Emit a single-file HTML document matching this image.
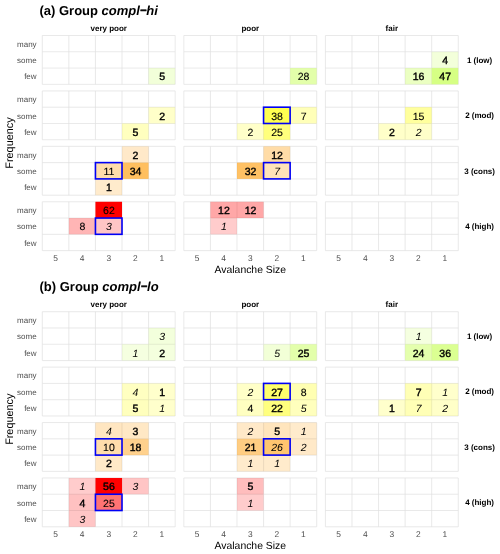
<!DOCTYPE html>
<html><head><meta charset="utf-8"><title>Avalanche size and frequency</title>
<style>
html,body{margin:0;padding:0;background:#fff}
svg{display:block;will-change:transform;text-rendering:geometricPrecision;font-family:"Liberation Sans",sans-serif}
</style></head><body>
<svg width="500" height="554" viewBox="0 0 500 554">
<rect width="500" height="554" fill="#fff"/>
<g transform="translate(0,0)">
<text x="39.5" y="14.5" font-size="13" font-weight="bold" fill="#000">(a) Group <tspan font-style="italic">compl<tspan font-size="11" dy="-0.7" stroke="#000" stroke-width="0.5">−</tspan><tspan dy="0.7">hi</tspan></tspan></text>
<text x="108.72" y="30.75" font-size="8" font-weight="bold" text-anchor="middle" fill="#000">very poor</text>
<text x="250.27" y="30.75" font-size="8" font-weight="bold" text-anchor="middle" fill="#000">poor</text>
<text x="391.82" y="30.75" font-size="8" font-weight="bold" text-anchor="middle" fill="#000">fair</text>
<text x="479.6" y="62.82" font-size="8" font-weight="bold" text-anchor="middle" fill="#000">1 (low)</text>
<text x="479.6" y="118.25" font-size="8" font-weight="bold" text-anchor="middle" fill="#000">2 (mod)</text>
<text x="479.6" y="173.67" font-size="8" font-weight="bold" text-anchor="middle" fill="#000">3 (cons)</text>
<text x="479.6" y="229.09" font-size="8" font-weight="bold" text-anchor="middle" fill="#000">4 (high)</text>
<text x="36.6" y="46.84" font-size="8" text-anchor="end" fill="#4d4d4d">many</text>
<text x="36.6" y="63.13" font-size="8" text-anchor="end" fill="#4d4d4d">some</text>
<text x="36.6" y="79.41" font-size="8" text-anchor="end" fill="#4d4d4d">few</text>
<text x="36.6" y="102.26" font-size="8" text-anchor="end" fill="#4d4d4d">many</text>
<text x="36.6" y="118.55" font-size="8" text-anchor="end" fill="#4d4d4d">some</text>
<text x="36.6" y="134.83" font-size="8" text-anchor="end" fill="#4d4d4d">few</text>
<text x="36.6" y="157.68" font-size="8" text-anchor="end" fill="#4d4d4d">many</text>
<text x="36.6" y="173.97" font-size="8" text-anchor="end" fill="#4d4d4d">some</text>
<text x="36.6" y="190.25" font-size="8" text-anchor="end" fill="#4d4d4d">few</text>
<text x="36.6" y="213.10" font-size="8" text-anchor="end" fill="#4d4d4d">many</text>
<text x="36.6" y="229.38" font-size="8" text-anchor="end" fill="#4d4d4d">some</text>
<text x="36.6" y="245.67" font-size="8" text-anchor="end" fill="#4d4d4d">few</text>
<text x="55.58" y="261.1" font-size="8.4" text-anchor="middle" fill="#4d4d4d">5</text>
<text x="82.16" y="261.1" font-size="8.4" text-anchor="middle" fill="#4d4d4d">4</text>
<text x="108.72" y="261.1" font-size="8.4" text-anchor="middle" fill="#4d4d4d">3</text>
<text x="135.30" y="261.1" font-size="8.4" text-anchor="middle" fill="#4d4d4d">2</text>
<text x="161.87" y="261.1" font-size="8.4" text-anchor="middle" fill="#4d4d4d">1</text>
<text x="197.13" y="261.1" font-size="8.4" text-anchor="middle" fill="#4d4d4d">5</text>
<text x="223.70" y="261.1" font-size="8.4" text-anchor="middle" fill="#4d4d4d">4</text>
<text x="250.27" y="261.1" font-size="8.4" text-anchor="middle" fill="#4d4d4d">3</text>
<text x="276.85" y="261.1" font-size="8.4" text-anchor="middle" fill="#4d4d4d">2</text>
<text x="303.41" y="261.1" font-size="8.4" text-anchor="middle" fill="#4d4d4d">1</text>
<text x="338.69" y="261.1" font-size="8.4" text-anchor="middle" fill="#4d4d4d">5</text>
<text x="365.25" y="261.1" font-size="8.4" text-anchor="middle" fill="#4d4d4d">4</text>
<text x="391.82" y="261.1" font-size="8.4" text-anchor="middle" fill="#4d4d4d">3</text>
<text x="418.39" y="261.1" font-size="8.4" text-anchor="middle" fill="#4d4d4d">2</text>
<text x="444.96" y="261.1" font-size="8.4" text-anchor="middle" fill="#4d4d4d">1</text>
<text x="250.3" y="273.0" font-size="10.4" text-anchor="middle" fill="#000">Avalanche Size</text>
<text transform="translate(13.2,143.06) rotate(-90)" font-size="10.85" text-anchor="middle" fill="#000">Frequency</text>
<path d="M42.30 35.50V84.35M68.87 35.50V84.35M95.44 35.50V84.35M122.01 35.50V84.35M148.58 35.50V84.35M175.15 35.50V84.35M42.30 35.50H175.15M42.30 51.78H175.15M42.30 68.07H175.15M42.30 84.35H175.15" stroke="#e0e0e0" stroke-width="0.7" fill="none"/>
<path d="M42.30 90.92V139.77M68.87 90.92V139.77M95.44 90.92V139.77M122.01 90.92V139.77M148.58 90.92V139.77M175.15 90.92V139.77M42.30 90.92H175.15M42.30 107.20H175.15M42.30 123.49H175.15M42.30 139.77H175.15" stroke="#e0e0e0" stroke-width="0.7" fill="none"/>
<path d="M42.30 146.34V195.19M68.87 146.34V195.19M95.44 146.34V195.19M122.01 146.34V195.19M148.58 146.34V195.19M175.15 146.34V195.19M42.30 146.34H175.15M42.30 162.62H175.15M42.30 178.91H175.15M42.30 195.19H175.15" stroke="#e0e0e0" stroke-width="0.7" fill="none"/>
<path d="M42.30 201.76V250.61M68.87 201.76V250.61M95.44 201.76V250.61M122.01 201.76V250.61M148.58 201.76V250.61M175.15 201.76V250.61M42.30 201.76H175.15M42.30 218.04H175.15M42.30 234.33H175.15M42.30 250.61H175.15" stroke="#e0e0e0" stroke-width="0.7" fill="none"/>
<path d="M183.85 35.50V84.35M210.42 35.50V84.35M236.99 35.50V84.35M263.56 35.50V84.35M290.13 35.50V84.35M316.70 35.50V84.35M183.85 35.50H316.70M183.85 51.78H316.70M183.85 68.07H316.70M183.85 84.35H316.70" stroke="#e0e0e0" stroke-width="0.7" fill="none"/>
<path d="M183.85 90.92V139.77M210.42 90.92V139.77M236.99 90.92V139.77M263.56 90.92V139.77M290.13 90.92V139.77M316.70 90.92V139.77M183.85 90.92H316.70M183.85 107.20H316.70M183.85 123.49H316.70M183.85 139.77H316.70" stroke="#e0e0e0" stroke-width="0.7" fill="none"/>
<path d="M183.85 146.34V195.19M210.42 146.34V195.19M236.99 146.34V195.19M263.56 146.34V195.19M290.13 146.34V195.19M316.70 146.34V195.19M183.85 146.34H316.70M183.85 162.62H316.70M183.85 178.91H316.70M183.85 195.19H316.70" stroke="#e0e0e0" stroke-width="0.7" fill="none"/>
<path d="M183.85 201.76V250.61M210.42 201.76V250.61M236.99 201.76V250.61M263.56 201.76V250.61M290.13 201.76V250.61M316.70 201.76V250.61M183.85 201.76H316.70M183.85 218.04H316.70M183.85 234.33H316.70M183.85 250.61H316.70" stroke="#e0e0e0" stroke-width="0.7" fill="none"/>
<path d="M325.40 35.50V84.35M351.97 35.50V84.35M378.54 35.50V84.35M405.11 35.50V84.35M431.68 35.50V84.35M458.25 35.50V84.35M325.40 35.50H458.25M325.40 51.78H458.25M325.40 68.07H458.25M325.40 84.35H458.25" stroke="#e0e0e0" stroke-width="0.7" fill="none"/>
<path d="M325.40 90.92V139.77M351.97 90.92V139.77M378.54 90.92V139.77M405.11 90.92V139.77M431.68 90.92V139.77M458.25 90.92V139.77M325.40 90.92H458.25M325.40 107.20H458.25M325.40 123.49H458.25M325.40 139.77H458.25" stroke="#e0e0e0" stroke-width="0.7" fill="none"/>
<path d="M325.40 146.34V195.19M351.97 146.34V195.19M378.54 146.34V195.19M405.11 146.34V195.19M431.68 146.34V195.19M458.25 146.34V195.19M325.40 146.34H458.25M325.40 162.62H458.25M325.40 178.91H458.25M325.40 195.19H458.25" stroke="#e0e0e0" stroke-width="0.7" fill="none"/>
<path d="M325.40 201.76V250.61M351.97 201.76V250.61M378.54 201.76V250.61M405.11 201.76V250.61M431.68 201.76V250.61M458.25 201.76V250.61M325.40 201.76H458.25M325.40 218.04H458.25M325.40 234.33H458.25M325.40 250.61H458.25" stroke="#e0e0e0" stroke-width="0.7" fill="none"/>
<rect x="148.58" y="68.07" width="26.57" height="16.28" fill="rgb(204,255,102)" fill-opacity="0.252"/>
<rect x="148.58" y="107.20" width="26.57" height="16.28" fill="rgb(255,255,0)" fill-opacity="0.213"/>
<rect x="122.01" y="123.49" width="26.57" height="16.28" fill="rgb(255,255,0)" fill-opacity="0.252"/>
<rect x="122.01" y="146.34" width="26.57" height="16.28" fill="rgb(255,153,0)" fill-opacity="0.213"/>
<rect x="95.44" y="162.62" width="26.57" height="16.28" fill="rgb(255,153,0)" fill-opacity="0.331"/>
<rect x="122.01" y="162.62" width="26.57" height="16.28" fill="rgb(255,153,0)" fill-opacity="0.633"/>
<rect x="95.44" y="178.91" width="26.57" height="16.28" fill="rgb(255,153,0)" fill-opacity="0.200"/>
<rect x="95.44" y="201.76" width="26.57" height="16.28" fill="rgb(255,0,0)" fill-opacity="1.000"/>
<rect x="68.87" y="218.04" width="26.57" height="16.28" fill="rgb(255,0,0)" fill-opacity="0.292"/>
<rect x="95.44" y="218.04" width="26.57" height="16.28" fill="rgb(255,0,0)" fill-opacity="0.226"/>
<rect x="290.13" y="68.07" width="26.57" height="16.28" fill="rgb(204,255,102)" fill-opacity="0.554"/>
<rect x="263.56" y="107.20" width="26.57" height="16.28" fill="rgb(255,255,0)" fill-opacity="0.685"/>
<rect x="290.13" y="107.20" width="26.57" height="16.28" fill="rgb(255,255,0)" fill-opacity="0.279"/>
<rect x="236.99" y="123.49" width="26.57" height="16.28" fill="rgb(255,255,0)" fill-opacity="0.213"/>
<rect x="263.56" y="123.49" width="26.57" height="16.28" fill="rgb(255,255,0)" fill-opacity="0.515"/>
<rect x="263.56" y="146.34" width="26.57" height="16.28" fill="rgb(255,153,0)" fill-opacity="0.344"/>
<rect x="236.99" y="162.62" width="26.57" height="16.28" fill="rgb(255,153,0)" fill-opacity="0.607"/>
<rect x="263.56" y="162.62" width="26.57" height="16.28" fill="rgb(255,153,0)" fill-opacity="0.279"/>
<rect x="210.42" y="201.76" width="26.57" height="16.28" fill="rgb(255,0,0)" fill-opacity="0.344"/>
<rect x="236.99" y="201.76" width="26.57" height="16.28" fill="rgb(255,0,0)" fill-opacity="0.344"/>
<rect x="210.42" y="218.04" width="26.57" height="16.28" fill="rgb(255,0,0)" fill-opacity="0.200"/>
<rect x="431.68" y="51.78" width="26.57" height="16.28" fill="rgb(204,255,102)" fill-opacity="0.239"/>
<rect x="405.11" y="68.07" width="26.57" height="16.28" fill="rgb(204,255,102)" fill-opacity="0.397"/>
<rect x="431.68" y="68.07" width="26.57" height="16.28" fill="rgb(204,255,102)" fill-opacity="0.803"/>
<rect x="405.11" y="107.20" width="26.57" height="16.28" fill="rgb(255,255,0)" fill-opacity="0.384"/>
<rect x="378.54" y="123.49" width="26.57" height="16.28" fill="rgb(255,255,0)" fill-opacity="0.213"/>
<rect x="405.11" y="123.49" width="26.57" height="16.28" fill="rgb(255,255,0)" fill-opacity="0.213"/>
<rect x="95.44" y="162.62" width="26.57" height="16.28" fill="none" stroke="#0000f5" stroke-width="1.6"/>
<rect x="95.44" y="218.04" width="26.57" height="16.28" fill="none" stroke="#0000f5" stroke-width="1.6"/>
<rect x="263.56" y="107.20" width="26.57" height="16.28" fill="none" stroke="#0000f5" stroke-width="1.6"/>
<rect x="263.56" y="162.62" width="26.57" height="16.28" fill="none" stroke="#0000f5" stroke-width="1.6"/>
<text x="162.06" y="80.36" font-size="10.5" stroke="#000" stroke-width="0.4" text-anchor="middle" fill="#000">5</text>
<text x="162.06" y="119.50" font-size="10.5" stroke="#000" stroke-width="0.4" text-anchor="middle" fill="#000">2</text>
<text x="135.50" y="135.78" font-size="10.5" stroke="#000" stroke-width="0.4" text-anchor="middle" fill="#000">5</text>
<text x="135.50" y="158.63" font-size="10.5" stroke="#000" stroke-width="0.4" text-anchor="middle" fill="#000">2</text>
<text x="108.92" y="174.92" font-size="10.5" stroke="#000" stroke-width="0.12" text-anchor="middle" fill="#000">11</text>
<text x="135.50" y="174.92" font-size="10.5" stroke="#000" stroke-width="0.4" text-anchor="middle" fill="#000">34</text>
<text x="108.92" y="191.20" font-size="10.5" stroke="#000" stroke-width="0.4" text-anchor="middle" fill="#000">1</text>
<text x="108.92" y="214.05" font-size="10.5" stroke="#000" stroke-width="0.12" text-anchor="middle" fill="#000">62</text>
<text x="82.36" y="230.34" font-size="10.5" stroke="#000" stroke-width="0.12" text-anchor="middle" fill="#000">8</text>
<text x="108.92" y="230.34" font-size="10.5" font-style="italic" text-anchor="middle" fill="#000">3</text>
<text x="303.62" y="80.36" font-size="10.5" stroke="#000" stroke-width="0.12" text-anchor="middle" fill="#000">28</text>
<text x="277.05" y="119.50" font-size="10.5" stroke="#000" stroke-width="0.12" text-anchor="middle" fill="#000">38</text>
<text x="303.62" y="119.50" font-size="10.5" stroke="#000" stroke-width="0.12" text-anchor="middle" fill="#000">7</text>
<text x="250.47" y="135.78" font-size="10.5" stroke="#000" stroke-width="0.12" text-anchor="middle" fill="#000">2</text>
<text x="277.05" y="135.78" font-size="10.5" stroke="#000" stroke-width="0.12" text-anchor="middle" fill="#000">25</text>
<text x="277.05" y="158.63" font-size="10.5" stroke="#000" stroke-width="0.4" text-anchor="middle" fill="#000">12</text>
<text x="250.47" y="174.92" font-size="10.5" stroke="#000" stroke-width="0.4" text-anchor="middle" fill="#000">32</text>
<text x="277.05" y="174.92" font-size="10.5" font-style="italic" text-anchor="middle" fill="#000">7</text>
<text x="223.90" y="214.05" font-size="10.5" stroke="#000" stroke-width="0.4" text-anchor="middle" fill="#000">12</text>
<text x="250.47" y="214.05" font-size="10.5" stroke="#000" stroke-width="0.4" text-anchor="middle" fill="#000">12</text>
<text x="223.90" y="230.34" font-size="10.5" font-style="italic" text-anchor="middle" fill="#000">1</text>
<text x="445.16" y="64.08" font-size="10.5" stroke="#000" stroke-width="0.4" text-anchor="middle" fill="#000">4</text>
<text x="418.60" y="80.36" font-size="10.5" stroke="#000" stroke-width="0.4" text-anchor="middle" fill="#000">16</text>
<text x="445.16" y="80.36" font-size="10.5" stroke="#000" stroke-width="0.4" text-anchor="middle" fill="#000">47</text>
<text x="418.60" y="119.50" font-size="10.5" stroke="#000" stroke-width="0.12" text-anchor="middle" fill="#000">15</text>
<text x="392.02" y="135.78" font-size="10.5" stroke="#000" stroke-width="0.4" text-anchor="middle" fill="#000">2</text>
<text x="418.60" y="135.78" font-size="10.5" font-style="italic" text-anchor="middle" fill="#000">2</text>
</g>
<g transform="translate(0,276.2)">
<text x="39.5" y="14.5" font-size="13" font-weight="bold" fill="#000">(b) Group <tspan font-style="italic">compl<tspan font-size="11" dy="-0.7" stroke="#000" stroke-width="0.5">−</tspan><tspan dy="0.7">lo</tspan></tspan></text>
<text x="108.72" y="30.75" font-size="8" font-weight="bold" text-anchor="middle" fill="#000">very poor</text>
<text x="250.27" y="30.75" font-size="8" font-weight="bold" text-anchor="middle" fill="#000">poor</text>
<text x="391.82" y="30.75" font-size="8" font-weight="bold" text-anchor="middle" fill="#000">fair</text>
<text x="479.6" y="62.82" font-size="8" font-weight="bold" text-anchor="middle" fill="#000">1 (low)</text>
<text x="479.6" y="118.25" font-size="8" font-weight="bold" text-anchor="middle" fill="#000">2 (mod)</text>
<text x="479.6" y="173.67" font-size="8" font-weight="bold" text-anchor="middle" fill="#000">3 (cons)</text>
<text x="479.6" y="229.09" font-size="8" font-weight="bold" text-anchor="middle" fill="#000">4 (high)</text>
<text x="36.6" y="46.84" font-size="8" text-anchor="end" fill="#4d4d4d">many</text>
<text x="36.6" y="63.13" font-size="8" text-anchor="end" fill="#4d4d4d">some</text>
<text x="36.6" y="79.41" font-size="8" text-anchor="end" fill="#4d4d4d">few</text>
<text x="36.6" y="102.26" font-size="8" text-anchor="end" fill="#4d4d4d">many</text>
<text x="36.6" y="118.55" font-size="8" text-anchor="end" fill="#4d4d4d">some</text>
<text x="36.6" y="134.83" font-size="8" text-anchor="end" fill="#4d4d4d">few</text>
<text x="36.6" y="157.68" font-size="8" text-anchor="end" fill="#4d4d4d">many</text>
<text x="36.6" y="173.97" font-size="8" text-anchor="end" fill="#4d4d4d">some</text>
<text x="36.6" y="190.25" font-size="8" text-anchor="end" fill="#4d4d4d">few</text>
<text x="36.6" y="213.10" font-size="8" text-anchor="end" fill="#4d4d4d">many</text>
<text x="36.6" y="229.38" font-size="8" text-anchor="end" fill="#4d4d4d">some</text>
<text x="36.6" y="245.67" font-size="8" text-anchor="end" fill="#4d4d4d">few</text>
<text x="55.58" y="261.1" font-size="8.4" text-anchor="middle" fill="#4d4d4d">5</text>
<text x="82.16" y="261.1" font-size="8.4" text-anchor="middle" fill="#4d4d4d">4</text>
<text x="108.72" y="261.1" font-size="8.4" text-anchor="middle" fill="#4d4d4d">3</text>
<text x="135.30" y="261.1" font-size="8.4" text-anchor="middle" fill="#4d4d4d">2</text>
<text x="161.87" y="261.1" font-size="8.4" text-anchor="middle" fill="#4d4d4d">1</text>
<text x="197.13" y="261.1" font-size="8.4" text-anchor="middle" fill="#4d4d4d">5</text>
<text x="223.70" y="261.1" font-size="8.4" text-anchor="middle" fill="#4d4d4d">4</text>
<text x="250.27" y="261.1" font-size="8.4" text-anchor="middle" fill="#4d4d4d">3</text>
<text x="276.85" y="261.1" font-size="8.4" text-anchor="middle" fill="#4d4d4d">2</text>
<text x="303.41" y="261.1" font-size="8.4" text-anchor="middle" fill="#4d4d4d">1</text>
<text x="338.69" y="261.1" font-size="8.4" text-anchor="middle" fill="#4d4d4d">5</text>
<text x="365.25" y="261.1" font-size="8.4" text-anchor="middle" fill="#4d4d4d">4</text>
<text x="391.82" y="261.1" font-size="8.4" text-anchor="middle" fill="#4d4d4d">3</text>
<text x="418.39" y="261.1" font-size="8.4" text-anchor="middle" fill="#4d4d4d">2</text>
<text x="444.96" y="261.1" font-size="8.4" text-anchor="middle" fill="#4d4d4d">1</text>
<text x="250.3" y="273.0" font-size="10.4" text-anchor="middle" fill="#000">Avalanche Size</text>
<text transform="translate(13.2,143.06) rotate(-90)" font-size="10.85" text-anchor="middle" fill="#000">Frequency</text>
<path d="M42.30 35.50V84.35M68.87 35.50V84.35M95.44 35.50V84.35M122.01 35.50V84.35M148.58 35.50V84.35M175.15 35.50V84.35M42.30 35.50H175.15M42.30 51.78H175.15M42.30 68.07H175.15M42.30 84.35H175.15" stroke="#e0e0e0" stroke-width="0.7" fill="none"/>
<path d="M42.30 90.92V139.77M68.87 90.92V139.77M95.44 90.92V139.77M122.01 90.92V139.77M148.58 90.92V139.77M175.15 90.92V139.77M42.30 90.92H175.15M42.30 107.20H175.15M42.30 123.49H175.15M42.30 139.77H175.15" stroke="#e0e0e0" stroke-width="0.7" fill="none"/>
<path d="M42.30 146.34V195.19M68.87 146.34V195.19M95.44 146.34V195.19M122.01 146.34V195.19M148.58 146.34V195.19M175.15 146.34V195.19M42.30 146.34H175.15M42.30 162.62H175.15M42.30 178.91H175.15M42.30 195.19H175.15" stroke="#e0e0e0" stroke-width="0.7" fill="none"/>
<path d="M42.30 201.76V250.61M68.87 201.76V250.61M95.44 201.76V250.61M122.01 201.76V250.61M148.58 201.76V250.61M175.15 201.76V250.61M42.30 201.76H175.15M42.30 218.04H175.15M42.30 234.33H175.15M42.30 250.61H175.15" stroke="#e0e0e0" stroke-width="0.7" fill="none"/>
<path d="M183.85 35.50V84.35M210.42 35.50V84.35M236.99 35.50V84.35M263.56 35.50V84.35M290.13 35.50V84.35M316.70 35.50V84.35M183.85 35.50H316.70M183.85 51.78H316.70M183.85 68.07H316.70M183.85 84.35H316.70" stroke="#e0e0e0" stroke-width="0.7" fill="none"/>
<path d="M183.85 90.92V139.77M210.42 90.92V139.77M236.99 90.92V139.77M263.56 90.92V139.77M290.13 90.92V139.77M316.70 90.92V139.77M183.85 90.92H316.70M183.85 107.20H316.70M183.85 123.49H316.70M183.85 139.77H316.70" stroke="#e0e0e0" stroke-width="0.7" fill="none"/>
<path d="M183.85 146.34V195.19M210.42 146.34V195.19M236.99 146.34V195.19M263.56 146.34V195.19M290.13 146.34V195.19M316.70 146.34V195.19M183.85 146.34H316.70M183.85 162.62H316.70M183.85 178.91H316.70M183.85 195.19H316.70" stroke="#e0e0e0" stroke-width="0.7" fill="none"/>
<path d="M183.85 201.76V250.61M210.42 201.76V250.61M236.99 201.76V250.61M263.56 201.76V250.61M290.13 201.76V250.61M316.70 201.76V250.61M183.85 201.76H316.70M183.85 218.04H316.70M183.85 234.33H316.70M183.85 250.61H316.70" stroke="#e0e0e0" stroke-width="0.7" fill="none"/>
<path d="M325.40 35.50V84.35M351.97 35.50V84.35M378.54 35.50V84.35M405.11 35.50V84.35M431.68 35.50V84.35M458.25 35.50V84.35M325.40 35.50H458.25M325.40 51.78H458.25M325.40 68.07H458.25M325.40 84.35H458.25" stroke="#e0e0e0" stroke-width="0.7" fill="none"/>
<path d="M325.40 90.92V139.77M351.97 90.92V139.77M378.54 90.92V139.77M405.11 90.92V139.77M431.68 90.92V139.77M458.25 90.92V139.77M325.40 90.92H458.25M325.40 107.20H458.25M325.40 123.49H458.25M325.40 139.77H458.25" stroke="#e0e0e0" stroke-width="0.7" fill="none"/>
<path d="M325.40 146.34V195.19M351.97 146.34V195.19M378.54 146.34V195.19M405.11 146.34V195.19M431.68 146.34V195.19M458.25 146.34V195.19M325.40 146.34H458.25M325.40 162.62H458.25M325.40 178.91H458.25M325.40 195.19H458.25" stroke="#e0e0e0" stroke-width="0.7" fill="none"/>
<path d="M325.40 201.76V250.61M351.97 201.76V250.61M378.54 201.76V250.61M405.11 201.76V250.61M431.68 201.76V250.61M458.25 201.76V250.61M325.40 201.76H458.25M325.40 218.04H458.25M325.40 234.33H458.25M325.40 250.61H458.25" stroke="#e0e0e0" stroke-width="0.7" fill="none"/>
<rect x="148.58" y="51.78" width="26.57" height="16.28" fill="rgb(204,255,102)" fill-opacity="0.229"/>
<rect x="122.01" y="68.07" width="26.57" height="16.28" fill="rgb(204,255,102)" fill-opacity="0.200"/>
<rect x="148.58" y="68.07" width="26.57" height="16.28" fill="rgb(204,255,102)" fill-opacity="0.215"/>
<rect x="122.01" y="107.20" width="26.57" height="16.28" fill="rgb(255,255,0)" fill-opacity="0.244"/>
<rect x="148.58" y="107.20" width="26.57" height="16.28" fill="rgb(255,255,0)" fill-opacity="0.200"/>
<rect x="122.01" y="123.49" width="26.57" height="16.28" fill="rgb(255,255,0)" fill-opacity="0.258"/>
<rect x="148.58" y="123.49" width="26.57" height="16.28" fill="rgb(255,255,0)" fill-opacity="0.200"/>
<rect x="95.44" y="146.34" width="26.57" height="16.28" fill="rgb(255,153,0)" fill-opacity="0.244"/>
<rect x="122.01" y="146.34" width="26.57" height="16.28" fill="rgb(255,153,0)" fill-opacity="0.229"/>
<rect x="95.44" y="162.62" width="26.57" height="16.28" fill="rgb(255,153,0)" fill-opacity="0.331"/>
<rect x="122.01" y="162.62" width="26.57" height="16.28" fill="rgb(255,153,0)" fill-opacity="0.447"/>
<rect x="95.44" y="178.91" width="26.57" height="16.28" fill="rgb(255,153,0)" fill-opacity="0.215"/>
<rect x="68.87" y="201.76" width="26.57" height="16.28" fill="rgb(255,0,0)" fill-opacity="0.200"/>
<rect x="95.44" y="201.76" width="26.57" height="16.28" fill="rgb(255,0,0)" fill-opacity="1.000"/>
<rect x="122.01" y="201.76" width="26.57" height="16.28" fill="rgb(255,0,0)" fill-opacity="0.229"/>
<rect x="68.87" y="218.04" width="26.57" height="16.28" fill="rgb(255,0,0)" fill-opacity="0.244"/>
<rect x="95.44" y="218.04" width="26.57" height="16.28" fill="rgb(255,0,0)" fill-opacity="0.549"/>
<rect x="68.87" y="234.33" width="26.57" height="16.28" fill="rgb(255,0,0)" fill-opacity="0.229"/>
<rect x="263.56" y="68.07" width="26.57" height="16.28" fill="rgb(204,255,102)" fill-opacity="0.258"/>
<rect x="290.13" y="68.07" width="26.57" height="16.28" fill="rgb(204,255,102)" fill-opacity="0.549"/>
<rect x="236.99" y="107.20" width="26.57" height="16.28" fill="rgb(255,255,0)" fill-opacity="0.215"/>
<rect x="263.56" y="107.20" width="26.57" height="16.28" fill="rgb(255,255,0)" fill-opacity="0.578"/>
<rect x="290.13" y="107.20" width="26.57" height="16.28" fill="rgb(255,255,0)" fill-opacity="0.302"/>
<rect x="236.99" y="123.49" width="26.57" height="16.28" fill="rgb(255,255,0)" fill-opacity="0.244"/>
<rect x="263.56" y="123.49" width="26.57" height="16.28" fill="rgb(255,255,0)" fill-opacity="0.505"/>
<rect x="290.13" y="123.49" width="26.57" height="16.28" fill="rgb(255,255,0)" fill-opacity="0.258"/>
<rect x="236.99" y="146.34" width="26.57" height="16.28" fill="rgb(255,153,0)" fill-opacity="0.215"/>
<rect x="263.56" y="146.34" width="26.57" height="16.28" fill="rgb(255,153,0)" fill-opacity="0.258"/>
<rect x="290.13" y="146.34" width="26.57" height="16.28" fill="rgb(255,153,0)" fill-opacity="0.200"/>
<rect x="236.99" y="162.62" width="26.57" height="16.28" fill="rgb(255,153,0)" fill-opacity="0.491"/>
<rect x="263.56" y="162.62" width="26.57" height="16.28" fill="rgb(255,153,0)" fill-opacity="0.564"/>
<rect x="290.13" y="162.62" width="26.57" height="16.28" fill="rgb(255,153,0)" fill-opacity="0.215"/>
<rect x="236.99" y="178.91" width="26.57" height="16.28" fill="rgb(255,153,0)" fill-opacity="0.200"/>
<rect x="263.56" y="178.91" width="26.57" height="16.28" fill="rgb(255,153,0)" fill-opacity="0.200"/>
<rect x="236.99" y="201.76" width="26.57" height="16.28" fill="rgb(255,0,0)" fill-opacity="0.258"/>
<rect x="236.99" y="218.04" width="26.57" height="16.28" fill="rgb(255,0,0)" fill-opacity="0.200"/>
<rect x="405.11" y="51.78" width="26.57" height="16.28" fill="rgb(204,255,102)" fill-opacity="0.200"/>
<rect x="405.11" y="68.07" width="26.57" height="16.28" fill="rgb(204,255,102)" fill-opacity="0.535"/>
<rect x="431.68" y="68.07" width="26.57" height="16.28" fill="rgb(204,255,102)" fill-opacity="0.709"/>
<rect x="405.11" y="107.20" width="26.57" height="16.28" fill="rgb(255,255,0)" fill-opacity="0.287"/>
<rect x="431.68" y="107.20" width="26.57" height="16.28" fill="rgb(255,255,0)" fill-opacity="0.200"/>
<rect x="378.54" y="123.49" width="26.57" height="16.28" fill="rgb(255,255,0)" fill-opacity="0.200"/>
<rect x="405.11" y="123.49" width="26.57" height="16.28" fill="rgb(255,255,0)" fill-opacity="0.287"/>
<rect x="431.68" y="123.49" width="26.57" height="16.28" fill="rgb(255,255,0)" fill-opacity="0.215"/>
<rect x="95.44" y="162.62" width="26.57" height="16.28" fill="none" stroke="#0000f5" stroke-width="1.6"/>
<rect x="95.44" y="218.04" width="26.57" height="16.28" fill="none" stroke="#0000f5" stroke-width="1.6"/>
<rect x="263.56" y="107.20" width="26.57" height="16.28" fill="none" stroke="#0000f5" stroke-width="1.6"/>
<rect x="263.56" y="162.62" width="26.57" height="16.28" fill="none" stroke="#0000f5" stroke-width="1.6"/>
<text x="162.06" y="64.08" font-size="10.5" font-style="italic" text-anchor="middle" fill="#000">3</text>
<text x="135.50" y="80.36" font-size="10.5" font-style="italic" text-anchor="middle" fill="#000">1</text>
<text x="162.06" y="80.36" font-size="10.5" stroke="#000" stroke-width="0.4" text-anchor="middle" fill="#000">2</text>
<text x="135.50" y="119.50" font-size="10.5" font-style="italic" text-anchor="middle" fill="#000">4</text>
<text x="162.06" y="119.50" font-size="10.5" stroke="#000" stroke-width="0.4" text-anchor="middle" fill="#000">1</text>
<text x="135.50" y="135.78" font-size="10.5" stroke="#000" stroke-width="0.4" text-anchor="middle" fill="#000">5</text>
<text x="162.06" y="135.78" font-size="10.5" font-style="italic" text-anchor="middle" fill="#000">1</text>
<text x="108.92" y="158.63" font-size="10.5" font-style="italic" text-anchor="middle" fill="#000">4</text>
<text x="135.50" y="158.63" font-size="10.5" stroke="#000" stroke-width="0.4" text-anchor="middle" fill="#000">3</text>
<text x="108.92" y="174.92" font-size="10.5" stroke="#000" stroke-width="0.12" text-anchor="middle" fill="#000">10</text>
<text x="135.50" y="174.92" font-size="10.5" stroke="#000" stroke-width="0.4" text-anchor="middle" fill="#000">18</text>
<text x="108.92" y="191.20" font-size="10.5" stroke="#000" stroke-width="0.4" text-anchor="middle" fill="#000">2</text>
<text x="82.36" y="214.05" font-size="10.5" font-style="italic" text-anchor="middle" fill="#000">1</text>
<text x="108.92" y="214.05" font-size="10.5" stroke="#000" stroke-width="0.4" text-anchor="middle" fill="#000">56</text>
<text x="135.50" y="214.05" font-size="10.5" font-style="italic" text-anchor="middle" fill="#000">3</text>
<text x="82.36" y="230.34" font-size="10.5" stroke="#000" stroke-width="0.4" text-anchor="middle" fill="#000">4</text>
<text x="108.92" y="230.34" font-size="10.5" stroke="#000" stroke-width="0.12" text-anchor="middle" fill="#000">25</text>
<text x="82.36" y="246.62" font-size="10.5" font-style="italic" text-anchor="middle" fill="#000">3</text>
<text x="277.05" y="80.36" font-size="10.5" font-style="italic" text-anchor="middle" fill="#000">5</text>
<text x="303.62" y="80.36" font-size="10.5" stroke="#000" stroke-width="0.4" text-anchor="middle" fill="#000">25</text>
<text x="250.47" y="119.50" font-size="10.5" font-style="italic" text-anchor="middle" fill="#000">2</text>
<text x="277.05" y="119.50" font-size="10.5" stroke="#000" stroke-width="0.4" text-anchor="middle" fill="#000">27</text>
<text x="303.62" y="119.50" font-size="10.5" stroke="#000" stroke-width="0.12" text-anchor="middle" fill="#000">8</text>
<text x="250.47" y="135.78" font-size="10.5" stroke="#000" stroke-width="0.12" text-anchor="middle" fill="#000">4</text>
<text x="277.05" y="135.78" font-size="10.5" stroke="#000" stroke-width="0.4" text-anchor="middle" fill="#000">22</text>
<text x="303.62" y="135.78" font-size="10.5" font-style="italic" text-anchor="middle" fill="#000">5</text>
<text x="250.47" y="158.63" font-size="10.5" font-style="italic" text-anchor="middle" fill="#000">2</text>
<text x="277.05" y="158.63" font-size="10.5" stroke="#000" stroke-width="0.4" text-anchor="middle" fill="#000">5</text>
<text x="303.62" y="158.63" font-size="10.5" font-style="italic" text-anchor="middle" fill="#000">1</text>
<text x="250.47" y="174.92" font-size="10.5" stroke="#000" stroke-width="0.4" text-anchor="middle" fill="#000">21</text>
<text x="277.05" y="174.92" font-size="10.5" font-style="italic" text-anchor="middle" fill="#000">26</text>
<text x="303.62" y="174.92" font-size="10.5" font-style="italic" text-anchor="middle" fill="#000">2</text>
<text x="250.47" y="191.20" font-size="10.5" font-style="italic" text-anchor="middle" fill="#000">1</text>
<text x="277.05" y="191.20" font-size="10.5" font-style="italic" text-anchor="middle" fill="#000">1</text>
<text x="250.47" y="214.05" font-size="10.5" stroke="#000" stroke-width="0.4" text-anchor="middle" fill="#000">5</text>
<text x="250.47" y="230.34" font-size="10.5" font-style="italic" text-anchor="middle" fill="#000">1</text>
<text x="418.60" y="64.08" font-size="10.5" font-style="italic" text-anchor="middle" fill="#000">1</text>
<text x="418.60" y="80.36" font-size="10.5" stroke="#000" stroke-width="0.4" text-anchor="middle" fill="#000">24</text>
<text x="445.16" y="80.36" font-size="10.5" stroke="#000" stroke-width="0.4" text-anchor="middle" fill="#000">36</text>
<text x="418.60" y="119.50" font-size="10.5" stroke="#000" stroke-width="0.4" text-anchor="middle" fill="#000">7</text>
<text x="445.16" y="119.50" font-size="10.5" font-style="italic" text-anchor="middle" fill="#000">1</text>
<text x="392.02" y="135.78" font-size="10.5" stroke="#000" stroke-width="0.4" text-anchor="middle" fill="#000">1</text>
<text x="418.60" y="135.78" font-size="10.5" font-style="italic" text-anchor="middle" fill="#000">7</text>
<text x="445.16" y="135.78" font-size="10.5" font-style="italic" text-anchor="middle" fill="#000">2</text>
</g>
</svg>
</body></html>
